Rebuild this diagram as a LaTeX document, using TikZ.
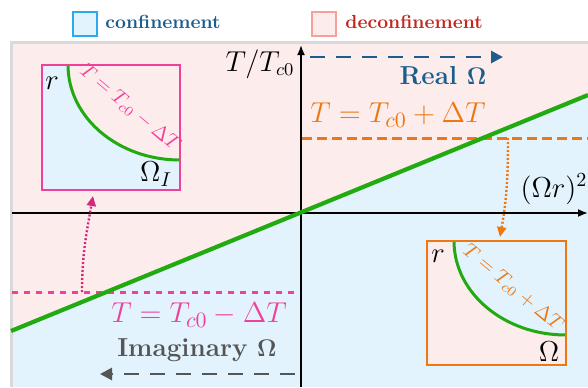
\documentclass[tikz,border=0pt]{standalone}
\usetikzlibrary{arrows.meta}
\definecolor{cblue}{HTML}{E2F3FD}
\definecolor{cpink}{HTML}{FDECEC}
\definecolor{cgreen}{HTML}{22AA11}
\definecolor{corange}{HTML}{EE7711}
\definecolor{cmag}{HTML}{F0409A}
\definecolor{cmagdark}{HTML}{D02A7E}
\definecolor{cdblue}{HTML}{1B5E8C}
\definecolor{cred}{HTML}{C0291F}
\definecolor{cgray}{HTML}{555555}
\definecolor{cframe}{HTML}{D9D9D9}
\definecolor{clegblue}{HTML}{2AAAF0}
\definecolor{clegpink}{HTML}{F8A098}
\tikzset{
  legbox/.style={draw, line width=1pt, minimum size=12pt, inner sep=0pt},
  legtext/.style={font=\fontsize{9.5}{11}\selectfont\bfseries, anchor=base west, inner sep=0pt},
  axisline/.style={line width=0.9pt, -{Latex[length=5pt,width=4pt]}},
  biglabel/.style={font=\fontsize{15}{17}\selectfont, inner sep=0pt},
  dirlabel/.style={font=\fontsize{13}{15}\selectfont\bfseries, inner sep=0pt},
  dirarrow/.style={line width=1.4pt, dash pattern=on 7.5pt off 5.5pt, -{Triangle[length=6pt,width=6pt]}},
  hline/.style={line width=1.5pt},
  dotarrow/.style={line width=1.2pt, dash pattern=on 1pt off 1pt, -{Triangle[length=5pt,width=4.5pt]}},
  inset/.style={line width=1.2pt},
  insetlabel/.style={font=\fontsize{14}{16}\selectfont, inner sep=0pt},
  rotlabel/.style={font=\fontsize{9.8}{11}\selectfont, inner sep=0pt, rotate=-40},
}
\begin{document}
\begin{tikzpicture}[x=0.5pt,y=-0.5pt]
\useasboundingbox (0,0) rectangle (588,387);
% background regions
\fill[cpink] (11,42.5) rectangle (588,387);
\fill[cblue] (11,331) -- (588,95) -- (588,387) -- (11,387) -- cycle;
\draw[cframe, line width=1.25pt] (11.5,387) -- (11.5,42.7) -- (588,42.7);
% legend
\node[legbox, draw=clegblue, fill=cblue] (lb) at (85,24) {};
\node[legtext, text=cdblue] (lbt) at (105,28.5) {confinement};
\node[legbox, draw=clegpink, fill=cpink] (lp) at (324,24) {};
\node[legtext, text=cred] (lpt) at (345,28.5) {deconfinement};
% horizontal levels
\coordinate (oL) at (302,138);
\coordinate (oR) at (588,138);
\draw[hline, corange, dash pattern=on 5pt off 2.5pt] (oL) -- (oR);
\coordinate (pL) at (12,292);
\coordinate (pR) at (300,292);
\draw[hline, cmag, dash pattern=on 3pt off 3pt] (pL) -- (pR);
% axes
\coordinate (xl) at (12,213);
\coordinate (xr) at (588,213);
\coordinate (yb) at (301,387);
\coordinate (yt) at (301,45);
\draw[axisline] (xl) -- (xr);
\draw[axisline] (yb) -- (yt);
% transition line
\coordinate (gL) at (11,331);
\coordinate (gR) at (588,95);
\draw[cgreen, line width=2.1pt] (gL) -- (gR);
% axis labels
\node[font=\fontsize{13.3}{15}\selectfont, inner sep=0pt] (tlab) at (260,64) {$T/T_{c0}$};
\node[font=\fontsize{14.5}{16}\selectfont, inner sep=0pt] (xlab) at (554,189) {$(\Omega r)^2$};
% level labels
\node[biglabel, text=corange] (olab) at (398,115) {$T=T_{c0}+\Delta T$};
\node[biglabel, text=cmag] (plab) at (199,315) {$T=T_{c0}-\Delta T$};
% direction arrows
\coordinate (rs) at (310,57);
\coordinate (re) at (503,57);
\draw[dirarrow, cdblue] (rs) -- (re);
\node[dirlabel, text=cdblue] (rlab) at (443,76) {Real $\mathbf{\Omega}$};
\coordinate (is) at (295,374);
\coordinate (ie) at (100,374);
\draw[dirarrow, cgray] (is) -- (ie);
\node[dirlabel, text=cgray] (ilab) at (197,350) {Imaginary $\mathbf{\Omega}$};
% left inset
\fill[cblue] (42,65) rectangle (180,190);
\fill[cpink] (68,65) .. controls (68,117.5) and (118,160) .. (180,160) -- (180,65) -- cycle;
\draw[cgreen, line width=1.5pt] (68,65) .. controls (68,117.5) and (118,160) .. (180,160);
\node[draw=cmag, inset, minimum width=69pt, minimum height=62.5pt, inner sep=0pt] (linset) at (111,127.5) {};
\node[insetlabel] (lr) at (52,83) {$r$};
\node[insetlabel] (lo) at (156,174) {$\Omega_I$};
\node[rotlabel, text=cmag] (lrot) at (130,108) {$T=T_{c0}-\Delta T$};
% right inset
\fill[cpink] (427,241) rectangle (566,365);
\fill[cblue] (454,241) .. controls (454,293) and (504,335) .. (566,335) -- (566,241) -- cycle;
\draw[cgreen, line width=1.5pt] (454,241) .. controls (454,293) and (504,335) .. (566,335);
\node[draw=corange, inset, minimum width=69.5pt, minimum height=62pt, inner sep=0pt] (rinset) at (496.5,303) {};
\node[insetlabel] (rr) at (438,256) {$r$};
\node[insetlabel] (ro) at (549,352) {$\Omega$};
\node[rotlabel, text=corange] (rrot) at (513,288) {$T=T_{c0}+\Delta T$};
% dotted arrows
\coordinate (pd) at (82,292);
\coordinate (pt) at (93,196);
\draw[dotarrow, cmagdark] (pd) to[out=90,in=-100] (pt);
\coordinate (od) at (508,138);
\coordinate (ot) at (500,237);
\draw[dotarrow, corange] (od) to[out=-90,in=80] (ot);
\end{tikzpicture}
\end{document}
